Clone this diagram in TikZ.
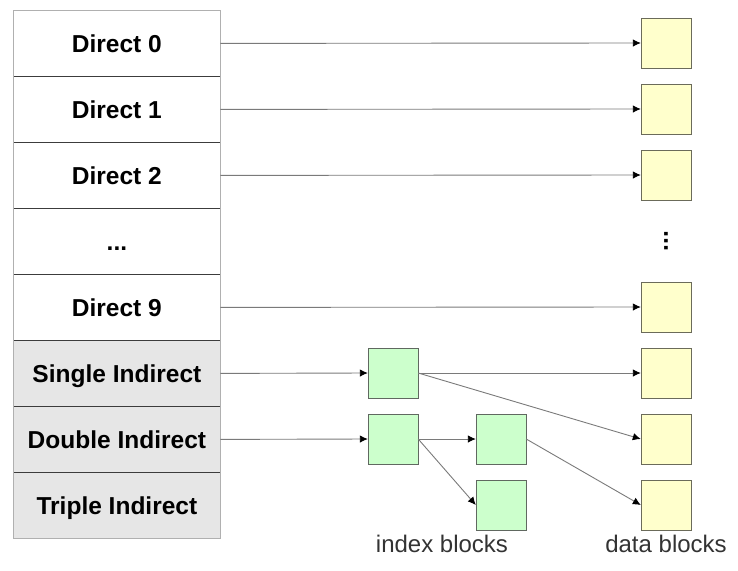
\documentclass[tikz,border=0pt]{standalone}
\usepackage{fontspec}
\setmainfont{Liberation Sans}
\usetikzlibrary{matrix,arrows.meta}

\definecolor{rowgray}{HTML}{E6E6E6}
\definecolor{divline}{HTML}{3C3C3C}
\definecolor{outline}{HTML}{B0B0B0}
\definecolor{datafill}{HTML}{FFFFCC}
\definecolor{dataline}{HTML}{6B6B5A}
\definecolor{idxfill}{HTML}{CCFFCC}
\definecolor{idxline}{HTML}{606860}
\definecolor{ptrline}{HTML}{7A7A7A}
\definecolor{lbltext}{HTML}{333333}

\begin{document}
\begin{tikzpicture}[x=1pt,y=-1pt,
  slot/.style={draw=divline, minimum width=207pt, minimum height=66pt, inner sep=0pt, outer sep=0pt,
    font=\fontsize{24.5}{26}\selectfont\bfseries, text height=17.5pt, text depth=0pt},
  indir/.style={fill=rowgray},
  datablk/.style={draw=dataline, fill=datafill, minimum size=50pt, inner sep=0pt},
  idxblk/.style={draw=idxline, fill=idxfill, minimum size=50pt, inner sep=0pt},
  lbl/.style={text=lbltext, font=\fontsize{24}{26}\selectfont, anchor=base, inner sep=0pt},
  ptr/.style={draw=ptrline, line width=0.9pt, -{Latex[length=8pt,width=7.5pt,black]}}]

  \useasboundingbox (0,0) rectangle (738,570);

  \matrix (m) [matrix of nodes, anchor=north west, row sep=-0.4pt, inner sep=0pt, nodes={slot}] at (13,10)
  {
    Direct 0 \\
    Direct 1 \\
    Direct 2 \\
    ... \\
    Direct 9 \\
    |[indir]| Single Indirect \\
    |[indir]| Double Indirect \\
    |[indir]| Triple Indirect \\
  };
  \draw[outline, line width=1pt] (m.north west) rectangle (m.south east);

  % data blocks
  \node[datablk] (b0) at (666,43) {};
  \node[datablk] (b1) at (666,109) {};
  \node[datablk] (b2) at (666,175) {};
  \node[rotate=90, inner sep=0pt, font=\fontsize{24.5}{26}\selectfont\bfseries] (bdots) at (666,241) {...};
  \node[datablk] (b9) at (666,307) {};
  \node[datablk] (bs) at (666,373) {};
  \node[datablk] (bd) at (666,439) {};
  \node[datablk] (bt) at (666,505) {};

  % index blocks
  \node[idxblk] (i1) at (393,373) {};
  \node[idxblk] (i2) at (393,439) {};
  \node[idxblk] (i3) at (501,439) {};
  \node[idxblk] (i4) at (501,505) {};

  \node[lbl] (idxlbl) at (442,552) {index blocks};
  \node[lbl] (datalbl) at (666,552) {data blocks};

  \draw[ptr] (m-1-1.east) -- (b0.west);
  \draw[ptr] (m-2-1.east) -- (b1.west);
  \draw[ptr] (m-3-1.east) -- (b2.west);
  \draw[ptr] (m-5-1.east) -- (b9.west);
  \draw[ptr] (m-6-1.east) -- (i1.west);
  \draw[ptr] (i1.east) -- (bs.west);
  \draw[ptr] (i1.east) -- (bd.west);
  \draw[ptr] (m-7-1.east) -- (i2.west);
  \draw[ptr] (i2.east) -- (i3.west);
  \draw[ptr] (i2.east) -- (i4.west);
  \draw[ptr] (i3.east) -- (bt.west);
\end{tikzpicture}
\end{document}
